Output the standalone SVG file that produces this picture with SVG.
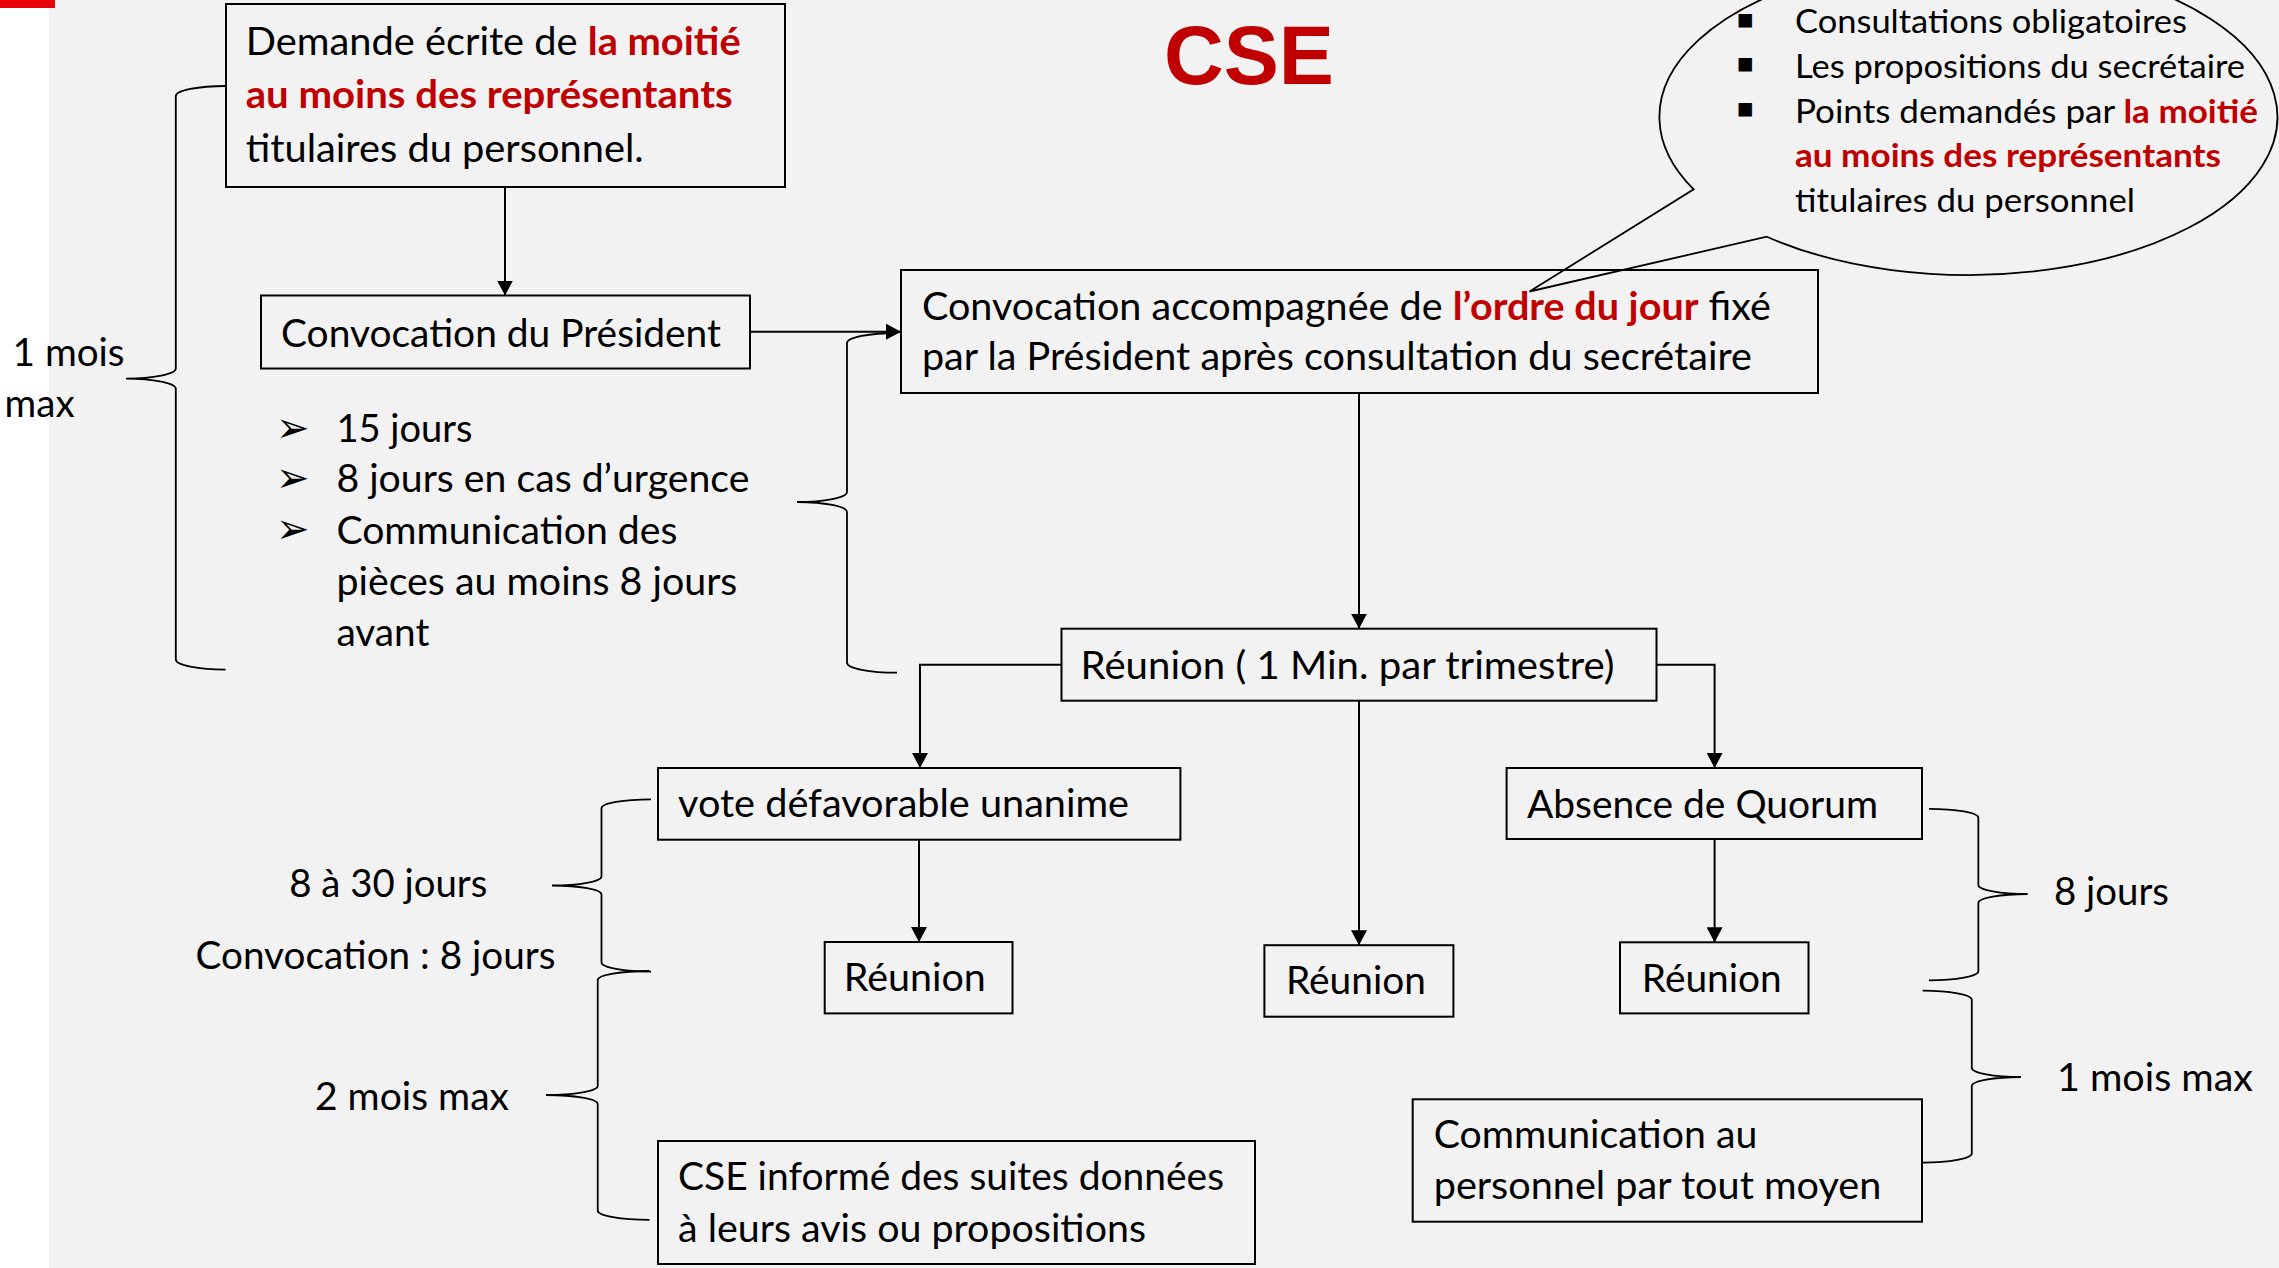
<svg xmlns="http://www.w3.org/2000/svg" width="2279" height="1268" viewBox="0 0 2279 1268">
<defs>
<marker id="arr" markerUnits="userSpaceOnUse" viewBox="0 0 15 16" refX="15" refY="8" markerWidth="15" markerHeight="16" orient="auto"><path d="M0,0 L15,8 L0,16 Z" fill="#000"/></marker>
</defs>
<style>
.box{fill:none;stroke:#000;stroke-width:2}
.t{font-family:Lato,"Open Sans","Liberation Sans",sans-serif;font-size:39px;fill:#000}
.s{font-size:33px}
.b{font-weight:700;fill:#c00000}
.conn{fill:none;stroke:#000;stroke-width:2}
.brace{fill:none;stroke:#000;stroke-width:1.8}
.sym{font-family:"DejaVu Sans",sans-serif;fill:#000}
.arrb{font-family:"DejaVu Sans",sans-serif;fill:#000;font-size:40px}
</style>
<rect x="0" y="0" width="2279" height="1268" fill="#ffffff"/>
<rect x="49" y="0" width="2230" height="1268" fill="#f2f2f2"/>
<rect x="0" y="0" width="55" height="8" fill="#e8000b"/>

<text id="title" x="1164" y="84" font-family="Liberation Sans, Arial, sans-serif" font-weight="700" font-size="84" fill="#c00000" textLength="170" lengthAdjust="spacingAndGlyphs">CSE</text>

<g id="connectors">
<path class="conn" d="M505,187 V295.5" marker-end="url(#arr)"/>
<path class="conn" d="M750,331.7 H901" marker-end="url(#arr)"/>
<path class="conn" d="M1359,392.7 V628.7" marker-end="url(#arr)"/>
<path class="conn" d="M1061.5,664.7 H920 V768" marker-end="url(#arr)"/>
<path class="conn" d="M1656.5,664.7 H1714.6 V768" marker-end="url(#arr)"/>
<path class="conn" d="M1359,700.7 V945.2" marker-end="url(#arr)"/>
<path class="conn" d="M919,839.7 V942" marker-end="url(#arr)"/>
<path class="conn" d="M1714.6,839 V942.3" marker-end="url(#arr)"/>
</g>

<g id="braces">
<path class="brace" d="M225.6,86 A49.8,10 0 0 0 175.8,96 L175.8,368.6 A49.8,10 0 0 1 126,378.6 A49.8,10 0 0 1 175.8,388.6 L175.8,659.6 A49.8,10 0 0 0 225.6,669.6"/>
<path class="brace" d="M897,333 A50,10 0 0 0 847,343 L847,492 A50,10 0 0 1 797,502 A50,10 0 0 1 847,512 L847,662.7 A50,10 0 0 0 897,672.7"/>
<path class="brace" d="M651,799.3 A49.5,9 0 0 0 601.5,808.3 L601.5,876.5 A49.5,9 0 0 1 552,885.5 A49.5,9 0 0 1 601.5,894.5 L601.5,962.6 A49.5,9 0 0 0 651,971.6"/>
<path class="brace" d="M649.5,971 A51.75,9 0 0 0 597.75,980 L597.75,1086 A51.75,9 0 0 1 546,1095 A51.75,9 0 0 1 597.75,1104 L597.75,1210.8 A51.75,9 0 0 0 649.5,1219.8"/>
<path class="brace" d="M1929,808.8 A49.35,9 0 0 1 1978.35,817.8 L1978.35,885 A49.35,9 0 0 0 2027.7,894 A49.35,9 0 0 0 1978.35,903 L1978.35,971.3 A49.35,9 0 0 1 1929,980.3"/>
<path class="brace" d="M1922.6,990.7 A49.2,9 0 0 1 1971.8,999.7 L1971.8,1068 A49.2,9 0 0 0 2021,1077 A49.2,9 0 0 0 1971.8,1086 L1971.8,1153.6 A49.2,9 0 0 1 1922.6,1162.6"/>
</g>

<g id="labels">
<text class="t" x="12.6" y="366" textLength="112" lengthAdjust="spacingAndGlyphs">1 mois</text>
<text class="t" x="4.6" y="417.4" textLength="70" lengthAdjust="spacingAndGlyphs">max</text>
<text class="t" x="289.3" y="896.6" textLength="198" lengthAdjust="spacingAndGlyphs">8 à 30 jours</text>
<text class="t" x="195.5" y="969" textLength="360" lengthAdjust="spacingAndGlyphs">Convocation : 8 jours</text>
<text class="t" x="315" y="1110" textLength="194" lengthAdjust="spacingAndGlyphs">2 mois max</text>
<text class="t" x="2054" y="905" textLength="115" lengthAdjust="spacingAndGlyphs">8 jours</text>
<text class="t" x="2057" y="1091" textLength="196" lengthAdjust="spacingAndGlyphs">1 mois max</text>
</g>

<g id="n-demande">
<rect class="box" x="226" y="4" width="559" height="183"/>
<text class="t" x="245.7" y="54.5" textLength="495" lengthAdjust="spacingAndGlyphs">Demande écrite de <tspan class="b">la moitié</tspan></text>
<text class="t b" x="245.7" y="108" textLength="487" lengthAdjust="spacingAndGlyphs">au moins des représentants</text>
<text class="t" x="245.7" y="161.6" textLength="398" lengthAdjust="spacingAndGlyphs">titulaires du personnel.</text>
</g>

<g id="n-convocation-president">
<rect class="box" x="261" y="295.5" width="489" height="73"/>
<text class="t" x="281" y="347" textLength="440" lengthAdjust="spacingAndGlyphs">Convocation du Président</text>
</g>

<g id="n-delais">
<text class="arrb" transform="translate(276,441.6) scale(1,1.06)">➢</text>
<text class="arrb" transform="translate(276,492) scale(1,1.06)">➢</text>
<text class="arrb" transform="translate(276,543.4) scale(1,1.06)">➢</text>
<text class="t" x="336.4" y="442" textLength="136" lengthAdjust="spacingAndGlyphs">15 jours</text>
<text class="t" x="336.4" y="492.4" textLength="413" lengthAdjust="spacingAndGlyphs">8 jours en cas d’urgence</text>
<text class="t" x="336.4" y="543.8" textLength="341" lengthAdjust="spacingAndGlyphs">Communication des</text>
<text class="t" x="336.4" y="594.6" textLength="401" lengthAdjust="spacingAndGlyphs">pièces au moins 8 jours</text>
<text class="t" x="336.4" y="646" textLength="93" lengthAdjust="spacingAndGlyphs">avant</text>
</g>

<g id="n-convocation-odj">
<rect class="box" x="901" y="270" width="917" height="123"/>
<text class="t" x="921.9" y="320" textLength="849" lengthAdjust="spacingAndGlyphs">Convocation accompagnée de <tspan class="b">l’ordre du jour</tspan> fixé</text>
<text class="t" x="921.9" y="370" textLength="830" lengthAdjust="spacingAndGlyphs">par la Président après consultation du secrétaire</text>
</g>

<g id="n-callout">
<path d="M1693.7,189.3 A309,158 0 1 1 1766.8,236.7 L1529.5,291.5 Z" fill="none" stroke="#000" stroke-width="1.8" stroke-linejoin="miter"/>
<text class="sym" x="1736" y="28" font-size="27">▪</text>
<text class="sym" x="1736" y="72" font-size="27">▪</text>
<text class="sym" x="1736" y="117" font-size="27">▪</text>
<text class="t s" x="1795" y="33.3" textLength="392" lengthAdjust="spacingAndGlyphs">Consultations obligatoires</text>
<text class="t s" x="1795" y="78.3" textLength="450" lengthAdjust="spacingAndGlyphs">Les propositions du secrétaire</text>
<text class="t s" x="1795" y="122.7" textLength="463" lengthAdjust="spacingAndGlyphs">Points demandés par <tspan class="b">la moitié</tspan></text>
<text class="t s b" x="1795" y="166.7" textLength="426" lengthAdjust="spacingAndGlyphs">au moins des représentants</text>
<text class="t s" x="1795" y="212" textLength="340" lengthAdjust="spacingAndGlyphs">titulaires du personnel</text>
</g>

<g id="n-reunion">
<rect class="box" x="1061.5" y="628.7" width="595" height="72"/>
<text class="t" x="1080.6" y="679.3" textLength="534" lengthAdjust="spacingAndGlyphs">Réunion ( 1 Min. par trimestre)</text>
</g>

<g id="n-vote">
<rect class="box" x="658" y="768" width="522.4" height="71.7"/>
<text class="t" x="678" y="817.4" textLength="451" lengthAdjust="spacingAndGlyphs">vote défavorable unanime</text>
</g>

<g id="n-reunion-vote">
<rect class="box" x="824.7" y="942" width="187.8" height="71.4"/>
<text class="t" x="843.8" y="990.8" textLength="142" lengthAdjust="spacingAndGlyphs">Réunion</text>
</g>

<g id="n-reunion-centre">
<rect class="box" x="1264.4" y="945.2" width="189" height="71.5"/>
<text class="t" x="1286" y="994" textLength="140" lengthAdjust="spacingAndGlyphs">Réunion</text>
</g>

<g id="n-absence">
<rect class="box" x="1506.6" y="768" width="415.4" height="71"/>
<text class="t" x="1527" y="817.5" textLength="351" lengthAdjust="spacingAndGlyphs">Absence de Quorum</text>
</g>

<g id="n-reunion-quorum">
<rect class="box" x="1620" y="942.3" width="188.5" height="71.1"/>
<text class="t" x="1641.8" y="992" textLength="140" lengthAdjust="spacingAndGlyphs">Réunion</text>
</g>

<g id="n-cse-informe">
<rect class="box" x="658" y="1141" width="597" height="123"/>
<text class="t" x="678" y="1190" textLength="546" lengthAdjust="spacingAndGlyphs">CSE informé des suites données</text>
<text class="t" x="678" y="1241.7" textLength="468" lengthAdjust="spacingAndGlyphs">à leurs avis ou propositions</text>
</g>

<g id="n-communication">
<rect class="box" x="1412.7" y="1099.3" width="509.3" height="122.4"/>
<text class="t" x="1433.7" y="1148" textLength="323.6" lengthAdjust="spacingAndGlyphs">Communication au</text>
<text class="t" x="1433.7" y="1198.5" textLength="447.6" lengthAdjust="spacingAndGlyphs">personnel par tout moyen</text>
</g>
</svg>
